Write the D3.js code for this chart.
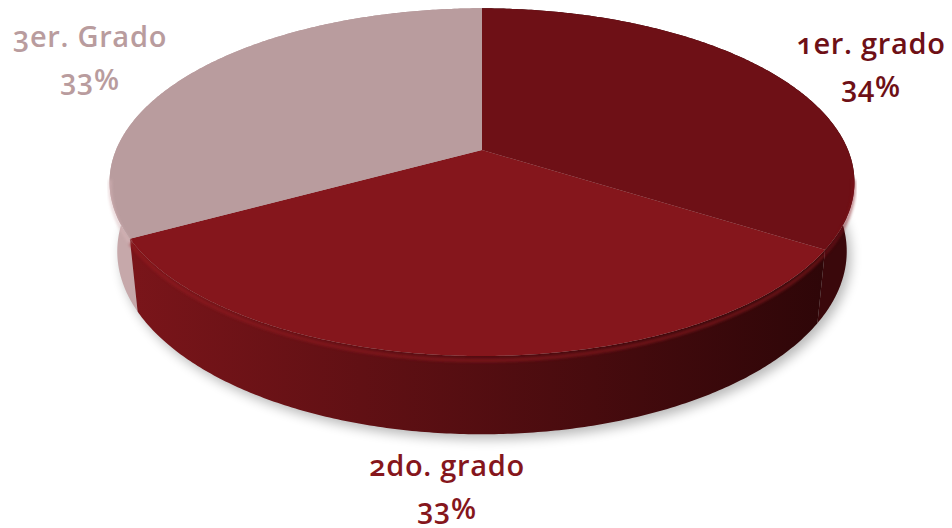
<!DOCTYPE html>
<html>
<head>
<meta charset="utf-8">
<script src="https://cdn.jsdelivr.net/npm/d3@7"></script>
<style>
  html, body { margin: 0; padding: 0; background: #fff; }
  svg { display: block; }
  .label { font-family: "Open Sans", "Lato", sans-serif; font-weight: 600; font-size: 29px; letter-spacing: 0.7px; font-feature-settings: "onum"; }
</style>
</head>
<body>
<div id="chart"></div>
<script>
const categories = ['1er. grado', '2do. grado', '3er. Grado'];
const values = [34, 33, 33];
const percentLabels = ['34%', '33%', '33%'];

const topColors = ['#6e1016', '#85161c', '#b99c9e'];
const wallStops = [
  ['#2c0608', '#3a080b'],
  ['#7a151a', '#2e0608'],
  ['#c6a8aa', '#a98d8f']
];
// label anchor (centre x, first baseline) per slice
const labelLayout = [
  { x: 871, y: 54 },
  { x: 447, y: 476 },
  { x: 90, y: 47 }
];

const width = 952;
const height = 528;

// simple perspective camera looking down on the disk
const cam = { ox: 482, oy: 150, k: 1758, dist: 4.803, cos: 0.8886, sin: 0.4587 };
const thickness = 0.214;

function project(theta, r, y) {
  const X = r * Math.sin(theta);
  const Z = r * Math.cos(theta);
  const depth = cam.dist + Z * cam.cos - y * cam.sin;
  const up = y * cam.cos + Z * cam.sin;
  return [cam.ox + cam.k * X / depth, cam.oy - cam.k * up / depth];
}

function rim(a0, a1, y) {
  const n = Math.max(8, Math.ceil((a1 - a0) / 0.01));
  return d3.range(n + 1).map(i => project(a0 + (a1 - a0) * i / n, 1, y));
}

const line = d3.line();

const svg = d3.select('#chart').append('svg')
  .attr('width', width)
  .attr('height', height);

const defs = svg.append('defs');
defs.append('filter').attr('id', 'shadow-blur')
  .attr('x', '-20%').attr('y', '-20%').attr('width', '140%').attr('height', '140%')
  .append('feGaussianBlur').attr('stdDeviation', 6);
defs.append('filter').attr('id', 'rim-blur')
  .append('feGaussianBlur').attr('stdDeviation', 1.6);

const arcs = d3.pie().sort(null).value(d => d)(values);

const xExtent = [project(-Math.PI / 2, 1, 0)[0], project(Math.PI / 2, 1, 0)[0]];
arcs.forEach((a, i) => {
  const g = defs.append('linearGradient')
    .attr('id', `wall-${i}`)
    .attr('gradientUnits', 'userSpaceOnUse')
    .attr('x1', xExtent[0]).attr('x2', xExtent[1])
    .attr('y1', 0).attr('y2', 0);
  const seg0 = project(a.startAngle, 1, 0)[0];
  const seg1 = project(a.endAngle, 1, 0)[0];
  const lo = Math.min(seg0, seg1);
  const hi = Math.max(seg0, seg1);
  const span = xExtent[1] - xExtent[0];
  g.append('stop').attr('offset', Math.max(0, (lo - xExtent[0]) / span)).attr('stop-color', wallStops[i][0]);
  g.append('stop').attr('offset', Math.min(1, (hi - xExtent[0]) / span)).attr('stop-color', wallStops[i][1]);
});

// soft shadow under the disk
svg.append('path')
  .attr('d', line(rim(0, 2 * Math.PI, -thickness)) + 'Z')
  .attr('transform', 'translate(4,5)')
  .attr('fill', '#000')
  .attr('opacity', 0.28)
  .attr('filter', 'url(#shadow-blur)');

// outer walls, back slices first
const order = arcs.map((a, i) => i)
  .sort((i, j) => Math.cos((arcs[j].startAngle + arcs[j].endAngle) / 2) - Math.cos((arcs[i].startAngle + arcs[i].endAngle) / 2));

svg.append('g').selectAll('path.wall')
  .data(order)
  .join('path')
  .attr('class', 'wall')
  .attr('d', i => {
    const a = arcs[i];
    const top = rim(a.startAngle, a.endAngle, 0);
    const bottom = rim(a.startAngle, a.endAngle, -thickness).reverse();
    return line(top.concat(bottom)) + 'Z';
  })
  .attr('fill', i => `url(#wall-${i})`);

// top faces
const apex = project(0, 0, 0);
svg.append('g').selectAll('path.top')
  .data(arcs)
  .join('path')
  .attr('class', 'top')
  .attr('d', a => line([apex].concat(rim(a.startAngle, a.endAngle, 0))) + 'Z')
  .attr('fill', (a, i) => topColors[i]);

// bevel highlight on the visible front rim
svg.append('g').selectAll('path.bevel')
  .data(arcs)
  .join('path')
  .attr('class', 'bevel')
  .attr('d', a => {
    const lo = Math.max(a.startAngle, Math.PI / 2 + 0.15);
    const hi = Math.min(a.endAngle, 3 * Math.PI / 2 - 0.15);
    if (hi <= lo) return null;
    return line(rim(lo, hi, -0.012));
  })
  .attr('fill', 'none')
  .attr('stroke', (a, i) => d3.color(topColors[i]).brighter(0.45))
  .attr('stroke-width', 3)
  .attr('opacity', 0.6)
  .attr('filter', 'url(#rim-blur)');

// labels
const labels = svg.append('g').selectAll('text.label')
  .data(arcs)
  .join('text')
  .attr('class', 'label')
  .attr('text-anchor', 'middle')
  .attr('fill', (a, i) => topColors[i])
  .attr('x', (a, i) => labelLayout[i].x)
  .attr('y', (a, i) => labelLayout[i].y);

labels.append('tspan')
  .attr('x', (a, i) => labelLayout[i].x)
  .text((a, i) => categories[i]);
labels.append('tspan')
  .attr('x', (a, i) => labelLayout[i].x)
  .attr('dy', 43)
  .text((a, i) => percentLabels[i]);
</script>
</body>
</html>
